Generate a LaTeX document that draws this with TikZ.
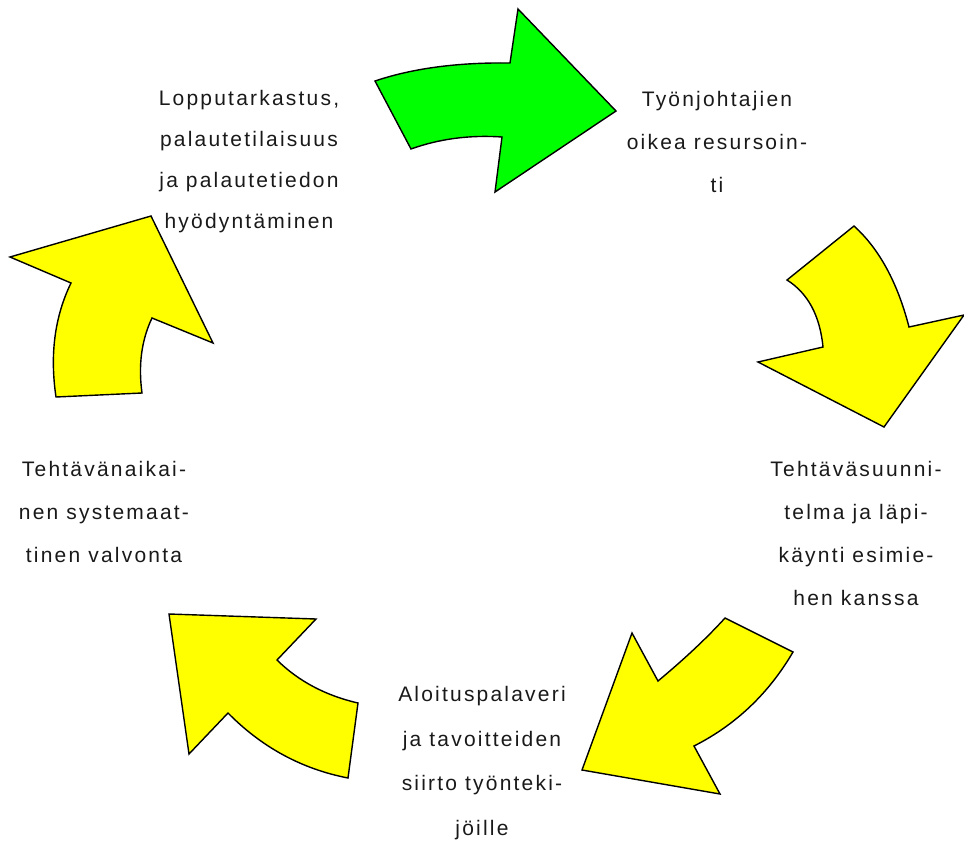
\documentclass[tikz,border=0pt]{standalone}
\usepackage{fontspec}
\setmainfont{Liberation Sans}[LetterSpace=10.5]
\begin{document}
\begin{tikzpicture}[x=1pt,y=-1pt,
  arr/.style={draw=black,line width=1.4pt,line join=miter},
  lbl/.style={inner sep=0pt,align=center,text=black!90,font=\fontsize{21}{43}\selectfont}]
\useasboundingbox (0,0) rectangle (964,841);
% green arrow (top)
\path[arr,fill={rgb,255:red,0;green,255;blue,0}]
  (375,81) .. controls (412.7,68.3) and (457.7,62.3) .. (510,63)
  -- (518,9) -- (616,111) -- (495,192) -- (502,137)
  .. controls (469.7,134.8) and (439.3,138.8) .. (411,149) -- cycle;
% right arrow
\path[arr,fill={rgb,255:red,255;green,255;blue,0}]
  (854,226) .. controls (879.2,248.8) and (897.5,282.5) .. (909,327)
  -- (964,315) -- (884,427) -- (758,362) -- (823,347)
  .. controls (819.9,315.5) and (807.9,293.2) .. (787,280) -- cycle;
% bottom-right arrow
\path[arr,fill={rgb,255:red,255;green,255;blue,0}]
  (725,618) -- (793,652)
  .. controls (768.7,693.5) and (735.7,724.9) .. (694,746)
  -- (720,794) -- (582,770) -- (632,633) -- (658,681)
  .. controls (685,658.5) and (707.3,637.5) .. (725,618) -- cycle;
% bottom-left arrow
\path[arr,fill={rgb,255:red,255;green,255;blue,0}]
  (169,614) -- (316,619) -- (277,660)
  .. controls (298.5,681.2) and (325.5,695.5) .. (358,703)
  -- (348,778)
  .. controls (301.8,769) and (261.8,747.3) .. (228,713)
  -- (189,754) -- cycle;
% left arrow
\path[arr,fill={rgb,255:red,255;green,255;blue,0}]
  (151,216) -- (213,343) -- (152,318)
  .. controls (141.5,340.1) and (138.2,365.1) .. (142,393)
  -- (56,397)
  .. controls (49.7,354.5) and (54.7,316.5) .. (71,283)
  -- (10,257) -- cycle;
% labels
\node[lbl,font=\fontsize{21}{41}\selectfont] (t1) at (249,162) {Lopputarkastus,\\palautetilaisuus\\ja palautetiedon\\hyödyntäminen};
\node[lbl] (t2) at (717,142) {Työnjohtajien\\oikea resursoin-\\ti};
\node[lbl] (t3) at (856,533) {Tehtäväsuunni-\\telma ja läpi-\\käynti esimie-\\hen kanssa};
\node[lbl,font=\fontsize{21}{44.5}\selectfont] (t4) at (482,763) {Aloituspalaveri\\ja tavoitteiden\\siirto työnteki-\\jöille};
\node[lbl] (t5) at (104,511.5) {Tehtävänaikai-\\nen systemaat-\\tinen valvonta};
\end{tikzpicture}
\end{document}
